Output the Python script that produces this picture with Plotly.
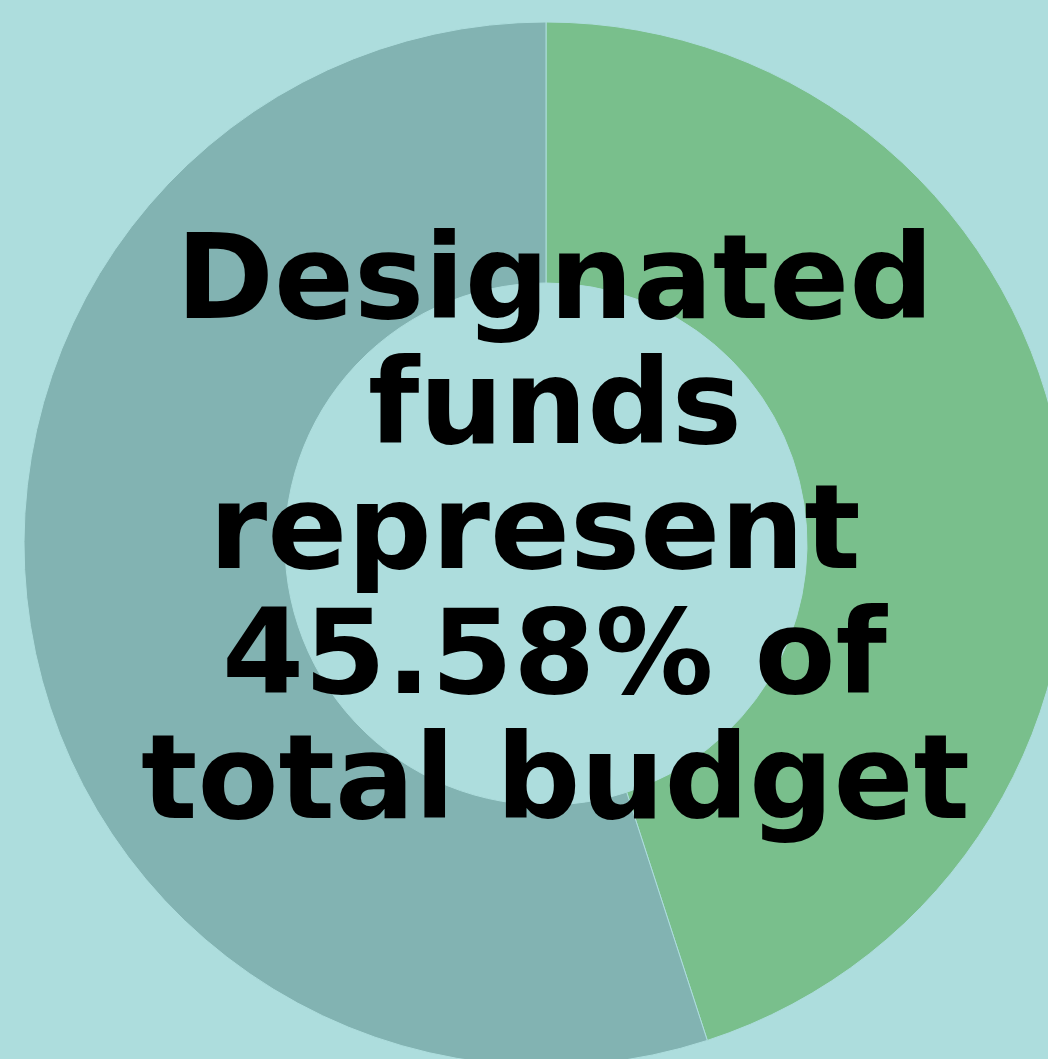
import plotly.graph_objects as go

labels = ["Designated funds", "Other funds"]
values = [45.0, 55.0]
slice_colors = ["#79bf8c", "#82b3b2"]
background = "#addddd"
caption_lines = ["Designated", "funds", "represent\u00a0", "45.58% of", "total budget"]

fig = go.Figure(
    go.Pie(
        labels=labels,
        values=values,
        hole=0.5,
        sort=False,
        direction="clockwise",
        rotation=0,
        textinfo="none",
        marker=dict(colors=slice_colors, line=dict(color=background, width=1)),
        showlegend=False,
        hoverinfo="label+percent",
    )
)

# line centres (page pixel y) converted to paper coords of the 1044px plot square
line_mid_px = [277, 402, 527, 652, 777]
annotations = []
for txt, py in zip(caption_lines, line_mid_px):
    annotations.append(
        dict(
            text=txt,
            x=(555 - 24) / 1044,
            y=1 - (py - 22) / 1044,
            xref="paper",
            yref="paper",
            xanchor="center",
            yanchor="middle",
            showarrow=False,
            font=dict(family="DejaVu Sans", size=118, color="#000000", weight="bold"),
        )
    )

fig.update_layout(
    width=1092,
    height=1088,
    margin=dict(l=24, r=24, t=22, b=22),
    paper_bgcolor=background,
    plot_bgcolor=background,
    annotations=annotations,
)

page_js = (
    "document.documentElement.style.margin='0';"
    "document.documentElement.style.overflow='hidden';"
    "document.body.style.margin='0';"
    "document.body.style.overflow='hidden';"
    "document.body.style.background='" + background + "';"
)

fig.write_html("out.html", post_script=page_js, config={"displayModeBar": False})
